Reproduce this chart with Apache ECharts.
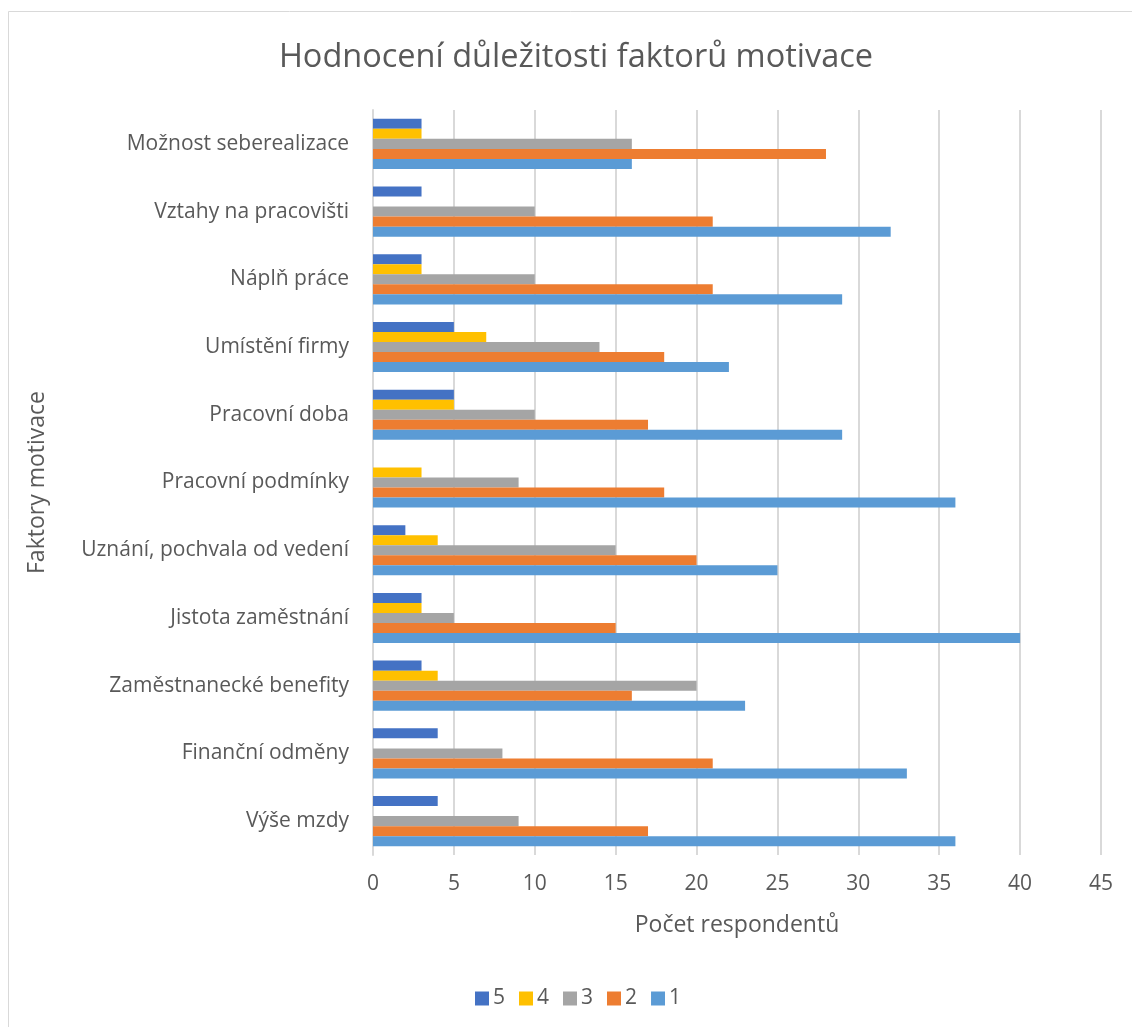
<!DOCTYPE html>
<html>
<head>
<meta charset="utf-8">
<script src="https://cdn.jsdelivr.net/npm/echarts@6/dist/echarts.min.js"></script>
<style>
html,body{margin:0;padding:0;background:#fff;}
#chart{width:1132px;height:1027px;}
</style>
</head>
<body>
<div id="chart"></div>
<script>
// Categories listed top to bottom
const categories = [
  "Možnost seberealizace",
  "Vztahy na pracovišti",
  "Náplň práce",
  "Umístění firmy",
  "Pracovní doba",
  "Pracovní podmínky",
  "Uznání, pochvala od vedení",
  "Jistota zaměstnání",
  "Zaměstnanecké benefity",
  "Finanční odměny",
  "Výše mzdy"
];
const seriesNames = ["5", "4", "3", "2", "1"];
const values5 = [3, 3, 3, 5, 5, 0, 2, 3, 3, 4, 4];
const values4 = [3, 0, 3, 7, 5, 3, 4, 3, 4, 0, 0];
const values3 = [16, 10, 10, 14, 10, 9, 15, 5, 20, 8, 9];
const values2 = [28, 21, 21, 18, 17, 18, 20, 15, 16, 21, 17];
const values1 = [16, 32, 29, 22, 29, 36, 25, 40, 23, 33, 36];
const xTicks = [0, 5, 10, 15, 20, 25, 30, 35, 40, 45];

const colors = ["#4472C4", "#FFC000", "#A5A5A5", "#ED7D31", "#5B9BD5"];
const allValues = [values5, values4, values3, values2, values1];
const FONT = "Open Sans";
const TXT = "#595959";

const chart = echarts.init(document.getElementById('chart'), null, {renderer: 'canvas'});
chart.setOption({
  animation: false,
  backgroundColor: '#ffffff',
  color: colors,
  textStyle: {fontFamily: FONT, color: TXT},
  title: {
    text: "Hodnocení důležitosti faktorů motivace",
    left: 571, top: 36, textAlign: 'center',
    textStyle: {fontFamily: FONT, fontSize: 32.5, fontWeight: 'normal', color: TXT}
  },
  graphic: [
    {type: 'line', shape: {x1: 8.5, y1: 11.5, x2: 1132, y2: 11.5}, style: {stroke: '#D9D9D9', lineWidth: 1}},
    {type: 'line', shape: {x1: 8.5, y1: 11.5, x2: 8.5, y2: 1027}, style: {stroke: '#D9D9D9', lineWidth: 1}}
  ],
  legend: {
    data: seriesNames,
    left: 475, top: 988, padding: 0,
    itemWidth: 14, itemHeight: 14, itemGap: 14,
    icon: 'rect',
    textStyle: {fontFamily: FONT, fontSize: 21, color: TXT, padding: [0,0,0,-1]}
  },
  grid: {left: 373, right: 31, top: 110, bottom: 172, containLabel: false},
  xAxis: {
    type: 'value', min: xTicks[0], max: xTicks[xTicks.length-1], interval: 5,
    name: "Počet respondentů", nameLocation: 'middle', nameGap: 59,
    nameTextStyle: {fontFamily: FONT, fontSize: 23, color: TXT},
    axisLine: {show: false}, axisTick: {show: false},
    axisLabel: {fontFamily: FONT, fontSize: 21, color: TXT, margin: 19},
    splitLine: {show: true, lineStyle: {color: '#D9D9D9', width: 2}}
  },
  yAxis: {
    type: 'category', data: categories, inverse: true,
    name: "Faktory motivace", nameLocation: 'middle', nameGap: 324,
    nameTextStyle: {fontFamily: FONT, fontSize: 23, color: TXT},
    axisLine: {show: true, lineStyle: {color: '#D9D9D9', width: 2}},
    axisTick: {show: false},
    axisLabel: {fontFamily: FONT, fontSize: 21, color: TXT, margin: 24}
  },
  series: seriesNames.map((n, i) => ({
    name: n, type: 'bar', data: allValues[i],
    barGap: '0%', barCategoryGap: '26%',
    itemStyle: {color: colors[i]}
  }))
});
</script>
</body>
</html>
